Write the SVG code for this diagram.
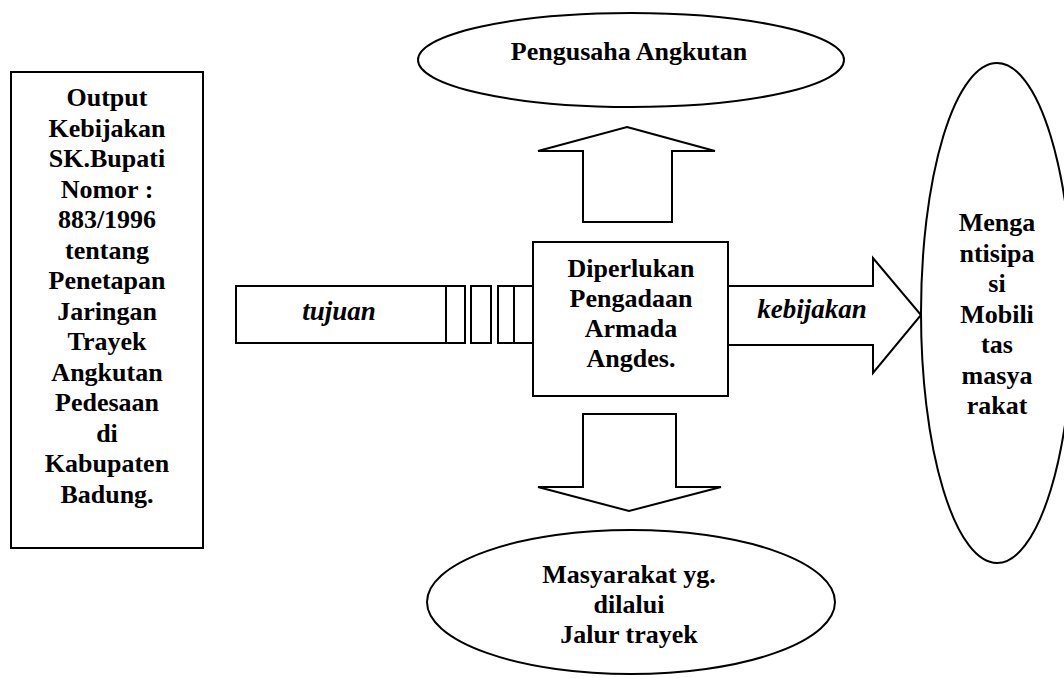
<svg xmlns="http://www.w3.org/2000/svg" width="1064" height="678" viewBox="0 0 1064 678">
<style>
.s{fill:#fff;stroke:#000;stroke-width:2}
.t{font-family:"Liberation Serif","Times New Roman",serif;font-weight:bold;font-size:26px;fill:#000;text-anchor:middle}
.i{font-family:"Liberation Serif","Times New Roman",serif;font-style:italic;font-weight:bold;font-size:27px;fill:#000;text-anchor:middle}
</style>
<rect width="1064" height="678" fill="#fff"/>
<g id="connectors">
<g id="tujuan">
<rect class="s" x="236" y="286" width="210" height="57"/>
<rect class="s" x="446" y="286" width="19" height="57"/>
<rect class="s" x="471" y="286" width="20" height="57"/>
<rect class="s" x="498" y="286" width="16" height="57"/>
<rect class="s" x="514" y="286" width="19" height="57"/>
<text class="i" x="339" y="320">tujuan</text>
</g>
<polygon id="arrow-up" class="s" points="627,127 715,151 672,151 672,222 583,222 583,151 538,151"/>
<polygon id="arrow-down" class="s" points="583,414 676,414 676,487 721,487 629,511 538,487 583,487"/>
<g id="kebijakan">
<polygon class="s" points="728,286 873,286 873,258 921,315 873,373 873,345 728,345"/>
<text class="i" x="812" y="318">kebijakan</text>
</g>
</g>
<g id="output">
<rect class="s" x="11" y="72" width="192" height="476"/>
<text class="t" x="107" y="106">Output</text>
<text class="t" x="107" y="136.5">Kebijakan</text>
<text class="t" x="107" y="167">SK.Bupati</text>
<text class="t" x="107" y="197.5">Nomor :</text>
<text class="t" x="107" y="228">883/1996</text>
<text class="t" x="107" y="258.5">tentang</text>
<text class="t" x="107" y="289">Penetapan</text>
<text class="t" x="107" y="319.5">Jaringan</text>
<text class="t" x="107" y="350">Trayek</text>
<text class="t" x="107" y="380.5">Angkutan</text>
<text class="t" x="107" y="411">Pedesaan</text>
<text class="t" x="107" y="441.5">di</text>
<text class="t" x="107" y="472">Kabupaten</text>
<text class="t" x="107" y="502.5">Badung.</text>
</g>
<g id="pengadaan">
<rect class="s" x="533" y="242" width="195" height="154"/>
<text class="t" x="631" y="277">Diperlukan</text>
<text class="t" x="631" y="307">Pengadaan</text>
<text class="t" x="631" y="337">Armada</text>
<text class="t" x="631" y="367">Angdes.</text>
</g>
<g id="pengusaha">
<ellipse class="s" cx="631" cy="60" rx="213" ry="47"/>
<text class="t" x="629" y="60">Pengusaha Angkutan</text>
</g>
<g id="masyarakat">
<ellipse class="s" cx="631" cy="602" rx="204" ry="72"/>
<text class="t" x="629" y="583">Masyarakat yg.</text>
<text class="t" x="629" y="613">dilalui</text>
<text class="t" x="629" y="643">Jalur trayek</text>
</g>
<g id="mobilitas">
<ellipse class="s" cx="997" cy="313" rx="76" ry="250"/>
<text class="t" x="997" y="231">Menga</text>
<text class="t" x="997" y="261.5">ntisipa</text>
<text class="t" x="997" y="292">si</text>
<text class="t" x="997" y="322.5">Mobili</text>
<text class="t" x="997" y="353">tas</text>
<text class="t" x="997" y="383.5">masya</text>
<text class="t" x="997" y="414">rakat</text>
</g>
</svg>
